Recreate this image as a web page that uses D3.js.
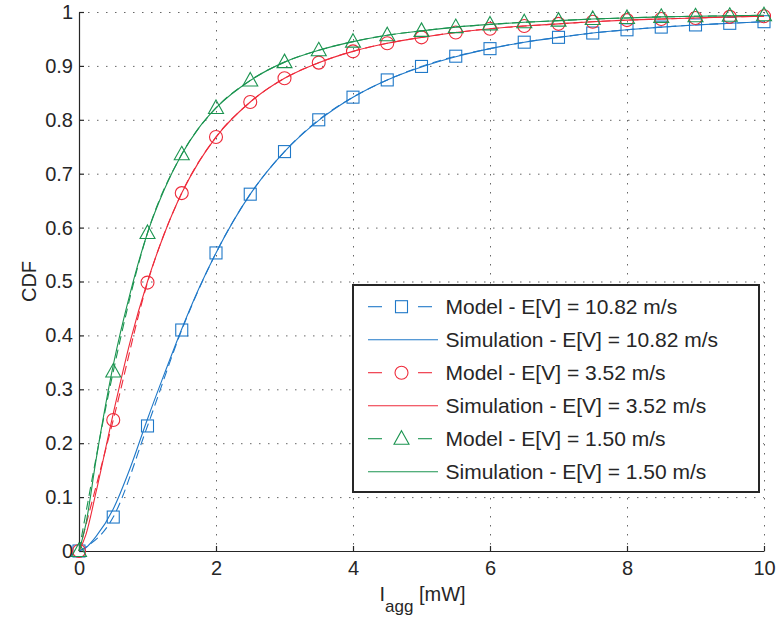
<!DOCTYPE html>
<html lang="en">
<head>
    <meta charset="UTF-8">
    <title>CDF</title>
    <style>
        html, body{ margin: 0; padding: 0; background: #fff; overflow: hidden; }
        svg{ display: block; font-family: "Liberation Sans", Arial, Helvetica, sans-serif; }
    </style>
    <script src="https://d3js.org/d3.v7.min.js"></script>
    <script>
        // marker positions of the model curves
        const modelX = [0, 0.5, 1, 1.5, 2, 2.5, 3, 3.5, 4, 4.5, 5, 5.5, 6, 6.5, 7, 7.5, 8, 8.5, 9, 9.5, 10]
        const modelBlue = [0, 0.063, 0.232, 0.41, 0.553, 0.662, 0.741, 0.8, 0.842, 0.874, 0.899, 0.918, 0.932, 0.944, 0.953, 0.961, 0.967, 0.972, 0.976, 0.979, 0.982]
        const modelRed = [0, 0.243, 0.498, 0.664, 0.768, 0.833, 0.877, 0.906, 0.927, 0.942, 0.953, 0.962, 0.969, 0.974, 0.978, 0.982, 0.985, 0.987, 0.989, 0.991, 0.992]
        const modelGreen = [0, 0.333, 0.59, 0.736, 0.822, 0.873, 0.907, 0.929, 0.945, 0.957, 0.965, 0.972, 0.977, 0.981, 0.984, 0.987, 0.989, 0.991, 0.992, 0.993, 0.994]

        // simulation curves (finer at the start)
        const simX = [0, 0.1, 0.25, 0.5, 0.75, 1, 1.25, 1.5, 1.75, 2, 2.5, 3, 3.5, 4, 4.5, 5, 5.5, 6, 6.5, 7, 7.5, 8, 8.5, 9, 9.5, 10]
        const simBlue = [0, 0.006, 0.027, 0.078, 0.155, 0.245, 0.33, 0.412, 0.487, 0.553, 0.662, 0.741, 0.799, 0.842, 0.874, 0.898, 0.917, 0.932, 0.944, 0.953, 0.961, 0.967, 0.972, 0.976, 0.979, 0.982]
        const simRed = [0, 0.03, 0.11, 0.255, 0.39, 0.5, 0.59, 0.664, 0.722, 0.768, 0.833, 0.877, 0.906, 0.927, 0.942, 0.953, 0.962, 0.969, 0.974, 0.978, 0.982, 0.985, 0.987, 0.989, 0.991, 0.992]
        const simGreen = [0, 0.05, 0.17, 0.345, 0.48, 0.59, 0.672, 0.736, 0.785, 0.822, 0.873, 0.907, 0.929, 0.945, 0.957, 0.965, 0.972, 0.977, 0.981, 0.984, 0.987, 0.989, 0.991, 0.992, 0.993, 0.994]

        const xTicks = [0, 2, 4, 6, 8, 10]
        const yTicks = [0, 0.1, 0.2, 0.3, 0.4, 0.5, 0.6, 0.7, 0.8, 0.9, 1]
        const legendLabels = ["Model - E[V] = 10.82 m/s", "Simulation - E[V] = 10.82 m/s", "Model - E[V] = 3.52 m/s", "Simulation - E[V] = 3.52 m/s", "Model - E[V] = 1.50 m/s", "Simulation - E[V] = 1.50 m/s"]

        const series = [
            { color: "#1f78c8", marker: "square", model: modelBlue, sim: simBlue },
            { color: "#ee2a3a", marker: "circle", model: modelRed, sim: simRed },
            { color: "#1b9450", marker: "triangle", model: modelGreen, sim: simGreen }
        ]

        function drawMarker(sel, type, color) {
            if (type === "square") {
                sel.append("rect").attr("x", -6).attr("y", -6).attr("width", 12).attr("height", 12)
            } else if (type === "circle") {
                sel.append("circle").attr("r", 6.5)
            } else {
                sel.append("path").attr("d", "M0,-8L7.5,5.5L-7.5,5.5Z")
            }
            sel.attr("fill", "none").attr("stroke", color).attr("stroke-width", 1.1)
        }

        function draw() {
            const { boxWidth, boxHeight, marginTop, marginRight, marginBottom, marginLeft } = { boxWidth: 777, boxHeight: 620, marginTop: 12, marginRight: 13, marginBottom: 69, marginLeft: 79 }
            const innerWidth = boxWidth - marginLeft - marginRight
            const innerHeight = boxHeight - marginTop - marginBottom
            const ink = "#262626"

            const svg = d3.select('#svg').append('svg').attr("width", boxWidth).attr('height', boxHeight)
            const g = svg.append("g").attr("transform", `translate(${marginLeft}, ${marginTop})`)

            const xScale = d3.scaleLinear().domain([0, 10]).range([0, innerWidth])
            const yScale = d3.scaleLinear().domain([0, 1]).range([innerHeight, 0])

            // dotted grid
            const grid = g.append("g").attr("stroke", "#666").attr("stroke-width", 1).attr("stroke-dasharray", "1.5,7.5")
            grid.selectAll(".hg").data(yTicks.slice(1)).enter().append("line")
                .attr("x1", 0).attr("x2", innerWidth)
                .attr("y1", d => yScale(d) + 0.5).attr("y2", d => yScale(d) + 0.5)
            grid.selectAll(".vg").data(xTicks.slice(1)).enter().append("line")
                .attr("y1", 0).attr("y2", innerHeight)
                .attr("x1", d => xScale(d) + 0.5).attr("x2", d => xScale(d) + 0.5)

            // axes
            const xAxis = d3.axisBottom(xScale).tickValues(xTicks).tickSizeInner(-5).tickSizeOuter(0).tickPadding(10).tickFormat(d3.format("d"))
            const yAxis = d3.axisLeft(yScale).tickValues(yTicks).tickSizeInner(-5).tickSizeOuter(0).tickPadding(6).tickFormat(d => d === 0 || d === 1 ? String(d) : d3.format(".1f")(d))
            const xg = g.append("g").attr("transform", `translate(0, ${innerHeight})`).call(xAxis)
            const yg = g.append("g").call(yAxis)
            for (const ax of [xg, yg]) {
                ax.selectAll("path, line").attr("stroke", ink).attr("stroke-width", 1.2)
                ax.selectAll("text").attr("fill", ink).attr("font-size", 20).attr("font-family", "Liberation Sans, Arial, sans-serif")
            }

            const lineModel = d3.line().x(d => xScale(d[0])).y(d => yScale(d[1])).curve(d3.curveMonotoneX)
            const lineSim = d3.line().x(d => xScale(d[0])).y(d => yScale(d[1])).curve(d3.curveMonotoneX)

            series.forEach(s => {
                const mPts = modelX.map((x, i) => [x, s.model[i]])
                const sPts = simX.map((x, i) => [x, s.sim[i]])
                g.append("path").attr("d", lineModel(mPts)).attr("fill", "none")
                    .attr("stroke", s.color).attr("stroke-width", 1.1).attr("stroke-dasharray", "9,5")
                g.append("path").attr("d", lineSim(sPts)).attr("fill", "none")
                    .attr("stroke", s.color).attr("stroke-width", 1.1)
                g.selectAll(".m-" + s.marker).data(mPts).enter().append("g")
                    .attr("class", "m-" + s.marker)
                    .attr("transform", d => `translate(${xScale(d[0])}, ${yScale(d[1])})`)
                    .each(function () { drawMarker(d3.select(this), s.marker, s.color) })
            })

            // legend
            const lg = svg.append("g").attr("transform", "translate(353, 285)")
            lg.append("rect").attr("width", 406).attr("height", 207).attr("fill", "#fff").attr("stroke", ink).attr("stroke-width", 2)
            legendLabels.forEach((label, i) => {
                const s = series[Math.floor(i / 2)]
                const y = 21.7 + i * 33
                const row = lg.append("g").attr("transform", `translate(0, ${y})`)
                if (i % 2 === 0) {
                    row.append("line").attr("x1", 15).attr("x2", 29).attr("y1", 0).attr("y2", 0).attr("stroke", s.color).attr("stroke-width", 1.1)
                    row.append("line").attr("x1", 65).attr("x2", 79).attr("y1", 0).attr("y2", 0).attr("stroke", s.color).attr("stroke-width", 1.1)
                    const mk = row.append("g").attr("transform", "translate(48.5, 0)")
                    drawMarker(mk, s.marker, s.color)
                } else {
                    row.append("line").attr("x1", 15).attr("x2", 85).attr("y1", 0).attr("y2", 0).attr("stroke", s.color).attr("stroke-width", 1.1)
                }
                row.append("text").attr("x", 92.5).attr("y", 0).attr("dy", "0.36em")
                    .attr("font-size", 21).attr("fill", ink).text(label)
            })

            // axis labels
            svg.append("text").attr("transform", `translate(36, ${marginTop + innerHeight / 2}) rotate(-90)`)
                .attr("text-anchor", "middle").attr("font-size", 20).attr("fill", ink).text("CDF")
            const xl = svg.append("text").attr("x", marginLeft + innerWidth / 2 + 1).attr("y", 601)
                .attr("text-anchor", "middle").attr("font-size", 20).attr("fill", ink)
            xl.append("tspan").text("I")
            xl.append("tspan").attr("font-size", 17).attr("dy", 11).text("agg")
            xl.append("tspan").attr("dy", -11).text(" [mW]")
        }

        document.addEventListener("DOMContentLoaded", draw)
    </script>
</head>
<body>
    <div id="svg"></div>
</body>
</html>
